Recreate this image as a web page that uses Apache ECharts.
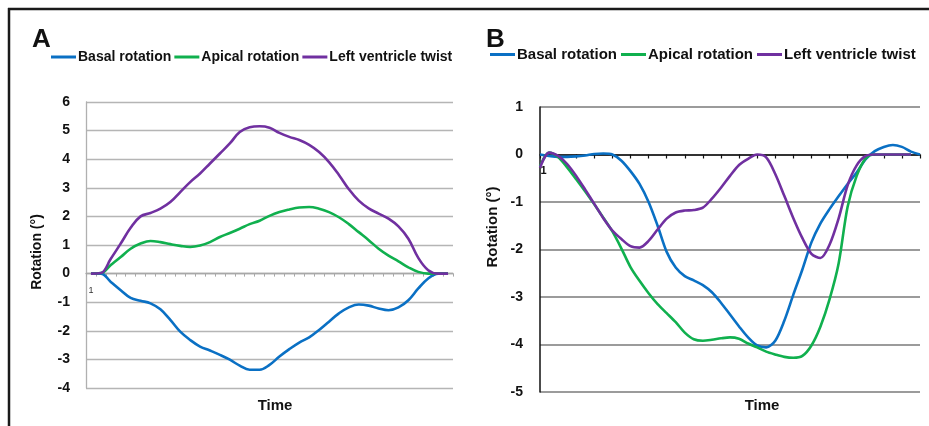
<!DOCTYPE html>
<html>
<head>
<meta charset="utf-8">
<script src="https://cdn.jsdelivr.net/npm/echarts@6/dist/echarts.min.js"></script>
<style>
html,body{margin:0;padding:0;background:#fff;}
#c{width:929px;height:426px;}
</style>
</head>
<body>
<div id="c"></div>
<script>
// ---- Data ----
const seriesNames = ['Basal rotation', 'Apical rotation', 'Left ventricle twist'];

// Panel A (37 time points)
const catsA = Array.from({length: 37}, (_, i) => String(i + 1));
const basalA = [0, 0, -0.29, -0.58, -0.85, -0.95, -1.04, -1.25, -1.62, -2.03, -2.32, -2.55, -2.69, -2.84, -3.01, -3.22, -3.36, -3.36, -3.19, -2.9, -2.64, -2.41, -2.23, -1.97, -1.68, -1.39, -1.18, -1.08, -1.12, -1.22, -1.28, -1.18, -0.93, -0.52, -0.17, 0, 0];
const apicalA = [0, 0.02, 0.3, 0.58, 0.87, 1.05, 1.14, 1.1, 1.03, 0.97, 0.93, 0.98, 1.1, 1.28, 1.42, 1.57, 1.73, 1.85, 2.02, 2.15, 2.24, 2.31, 2.33, 2.27, 2.15, 1.97, 1.73, 1.45, 1.17, 0.87, 0.63, 0.43, 0.22, 0.06, 0, 0, 0];
const twistA = [0, 0.02, 0.52, 1.05, 1.6, 2.0, 2.12, 2.27, 2.5, 2.85, 3.2, 3.5, 3.85, 4.2, 4.55, 4.95, 5.12, 5.15, 5.1, 4.92, 4.78, 4.67, 4.5, 4.25, 3.9, 3.45, 2.95, 2.55, 2.28, 2.1, 1.92, 1.65, 1.22, 0.55, 0.12, 0, 0];

// Panel B (43 time points)
const catsB = Array.from({length: 43}, (_, i) => String(i + 1));
const basalB = [0, -0.03, -0.05, -0.05, -0.04, -0.02, 0.01, 0.02, 0, -0.13, -0.35, -0.62, -1.0, -1.5, -2.05, -2.38, -2.56, -2.65, -2.75, -2.9, -3.12, -3.37, -3.62, -3.85, -4.02, -4.06, -3.92, -3.5, -2.95, -2.42, -1.85, -1.45, -1.15, -0.88, -0.62, -0.38, -0.1, 0.07, 0.16, 0.2, 0.16, 0.06, 0];
const apicalB = [-0.25, 0.04, -0.05, -0.27, -0.52, -0.78, -1.05, -1.33, -1.62, -1.98, -2.37, -2.66, -2.92, -3.15, -3.34, -3.53, -3.75, -3.89, -3.92, -3.9, -3.87, -3.85, -3.88, -3.98, -4.06, -4.15, -4.21, -4.26, -4.28, -4.24, -4.02, -3.62, -3.05, -2.3, -1.1, -0.45, -0.08, 0, 0, 0, 0, 0, '-'];
const twistB = [-0.28, 0.04, -0.03, -0.2, -0.45, -0.74, -1.04, -1.34, -1.6, -1.78, -1.93, -1.96, -1.82, -1.58, -1.35, -1.22, -1.18, -1.17, -1.12, -0.93, -0.7, -0.45, -0.22, -0.09, 0, -0.06, -0.41, -0.87, -1.34, -1.76, -2.09, -2.18, -1.9, -1.35, -0.65, -0.23, -0.03, 0, 0, 0, 0, 0, '-'];

const yTicksA = {min: -4, max: 6, interval: 1};
const yTicksB = {min: -5, max: 1, interval: 1};

// ---- Styles ----
const colors = ['#0a70c4', '#10b04e', '#7030a0'];
const FONT = '"Liberation Sans", Arial, sans-serif';

const chart = echarts.init(document.getElementById('c'), null, {renderer: 'canvas'});

function lineSeries(name, data, xi, color, smooth) {
  return {
    name: name, type: 'line', xAxisIndex: xi, yAxisIndex: xi, data: data,
    symbol: 'none', smooth: smooth, lineStyle: {color: color, width: 2.6},
    itemStyle: {color: color}, animation: false
  };
}

function legend(left, top, fs, gap) {
  return {
    left: left, top: top, padding: 0, itemGap: gap, itemWidth: 25, itemHeight: 3,
    icon: 'rect', selectedMode: false,
    data: seriesNames,
    textStyle: {fontFamily: FONT, fontWeight: 'bold', fontSize: fs, color: '#111', padding: [0, 0, 0, -3]}
  };
}

const option = {
  animation: false,
  color: colors,
  legend: [legend(51, 50, 14, 3), legend(490, 47, 15, 4)],
  grid: [
    {left: 86, top: 102, width: 367, height: 286, containLabel: false},
    {left: 540, top: 107, width: 380, height: 285, containLabel: false}
  ],
  xAxis: [
    {
      type: 'category', gridIndex: 0, data: catsA, boundaryGap: true,
      axisLine: {onZero: true, lineStyle: {color: '#a8a8a8', width: 1.3}},
      axisTick: {show: true, interval: 0, length: 3, lineStyle: {color: '#a8a8a8'}},
      axisLabel: {interval: 0, margin: -102, fontFamily: FONT, fontSize: 9, color: '#333',
        formatter: (v, i) => (i === 0 ? v : '')},
      splitLine: {show: false}
    },
    {
      type: 'category', gridIndex: 1, data: catsB, boundaryGap: false,
      axisLine: {onZero: true, lineStyle: {color: '#111', width: 1.5}},
      axisTick: {show: true, interval: 1, length: 4, lineStyle: {color: '#111', width: 1.2}},
      axisLabel: {interval: 0, margin: -227, padding: [0, 0, 0, 7], fontFamily: FONT, fontSize: 11, fontWeight: 'bold', color: '#111',
        formatter: (v, i) => (i === 0 ? v : '')},
      splitLine: {show: false}
    }
  ],
  yAxis: [
    {
      type: 'value', gridIndex: 0, min: yTicksA.min, max: yTicksA.max, interval: yTicksA.interval,
      axisLine: {show: true, lineStyle: {color: '#b0b0b0', width: 1.3}},
      axisTick: {show: false},
      axisLabel: {margin: 16, fontFamily: FONT, fontSize: 14, fontWeight: 'bold', color: '#111'},
      splitLine: {show: true, lineStyle: {color: '#b5b5b5', width: 1.3}}
    },
    {
      type: 'value', gridIndex: 1, min: yTicksB.min, max: yTicksB.max, interval: yTicksB.interval,
      axisLine: {show: true, lineStyle: {color: '#111', width: 1.5}},
      axisTick: {show: false},
      axisLabel: {margin: 17, fontFamily: FONT, fontSize: 14, fontWeight: 'bold', color: '#111'},
      splitLine: {show: true, lineStyle: {color: '#7a7a7a', width: 1.5}}
    }
  ],
  series: [
    lineSeries(seriesNames[0], basalA, 0, colors[0], 0.4),
    lineSeries(seriesNames[1], apicalA, 0, colors[1], 0.4),
    lineSeries(seriesNames[2], twistA, 0, colors[2], 0.4),
    lineSeries(seriesNames[0], basalB, 1, colors[0], 0.3),
    lineSeries(seriesNames[1], apicalB, 1, colors[1], 0.3),
    lineSeries(seriesNames[2], twistB, 1, colors[2], 0.3)
  ],
  graphic: [
    {type: 'line', shape: {x1: 8, y1: 9, x2: 929, y2: 9}, style: {stroke: '#1a1a1a', lineWidth: 2.5}},
    {type: 'line', shape: {x1: 9, y1: 8, x2: 9, y2: 426}, style: {stroke: '#1a1a1a', lineWidth: 2.5}},
    {type: 'text', x: 32, y: 27, style: {text: 'A', font: 'bold 26px ' + FONT, fill: '#111', textAlign: 'left', textVerticalAlign: 'top', align: 'left', verticalAlign: 'top'}},
    {type: 'text', x: 486, y: 27, style: {text: 'B', font: 'bold 26px ' + FONT, fill: '#111', textAlign: 'left', textVerticalAlign: 'top', align: 'left', verticalAlign: 'top'}},
    {type: 'text', x: 37, y: 252, rotation: Math.PI / 2, style: {text: 'Rotation (°)', font: 'bold 14px ' + FONT, fill: '#111', textAlign: 'center', textVerticalAlign: 'middle', align: 'center', verticalAlign: 'middle'}},
    {type: 'text', x: 493, y: 227, rotation: Math.PI / 2, style: {text: 'Rotation (°)', font: 'bold 15px ' + FONT, fill: '#111', textAlign: 'center', textVerticalAlign: 'middle', align: 'center', verticalAlign: 'middle'}},
    {type: 'text', x: 275, y: 406, style: {text: 'Time', font: 'bold 15px ' + FONT, fill: '#111', textAlign: 'center', textVerticalAlign: 'middle', align: 'center', verticalAlign: 'middle'}},
    {type: 'text', x: 762, y: 406, style: {text: 'Time', font: 'bold 15px ' + FONT, fill: '#111', textAlign: 'center', textVerticalAlign: 'middle', align: 'center', verticalAlign: 'middle'}}
  ]
};
chart.setOption(option);
</script>
</body>
</html>
